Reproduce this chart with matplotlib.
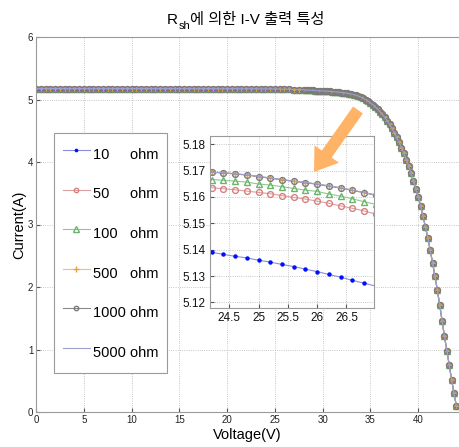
import matplotlib
matplotlib.use("Agg")
import matplotlib.pyplot as plt
from matplotlib.patches import FancyArrow
from matplotlib.transforms import IdentityTransform

plt.rcParams["font.family"] = ["Liberation Sans", "Noto Sans CJK KR", "DejaVu Sans"]

# legend labels (padded like the original)
labels = ["10     ohm", "50     ohm", "100   ohm", "500   ohm", "1000 ohm", "5000 ohm"]

# main I-V curve (all six series overlap at this scale)
v_main = [0, 0.5, 1, 1.5, 2, 2.5, 3, 3.5, 4, 4.5, 5, 5.5, 6, 6.5, 7, 7.5, 8, 8.5, 9, 9.5,
          10, 10.5, 11, 11.5, 12, 12.5, 13, 13.5, 14, 14.5, 15, 15.5, 16, 16.5, 17, 17.5,
          18, 18.5, 19, 19.5, 20, 20.5, 21, 21.5, 22, 22.5, 23, 23.5, 24, 24.5, 25, 25.5,
          26, 26.5, 27, 27.5,
          28, 28.25, 28.5, 28.75, 29, 29.25, 29.5, 29.75, 30, 30.25, 30.5, 30.75,
          31, 31.25, 31.5, 31.75, 32, 32.25, 32.5, 32.75, 33, 33.25, 33.5, 33.75,
          34, 34.25, 34.5, 34.75, 35, 35.25, 35.5, 35.75, 36, 36.25, 36.5, 36.75,
          37, 37.25, 37.5, 37.75, 38, 38.25, 38.5, 38.75, 39, 39.25, 39.5, 39.75,
          40, 40.25, 40.5, 40.75, 41, 41.25, 41.5, 41.75, 42, 42.25, 42.5, 42.75,
          43, 43.25, 43.5, 43.75, 44]
i_main = [5.175, 5.175, 5.175, 5.175, 5.175, 5.175, 5.175, 5.175, 5.175, 5.175,
          5.175, 5.175, 5.175, 5.175, 5.175, 5.175, 5.175, 5.175, 5.175, 5.175,
          5.175, 5.174, 5.174, 5.174, 5.174, 5.174, 5.174, 5.174, 5.174, 5.174,
          5.174, 5.174, 5.174, 5.174, 5.174, 5.174, 5.174, 5.173, 5.173, 5.173,
          5.173, 5.173, 5.173, 5.172, 5.172, 5.172, 5.172, 5.171, 5.170, 5.169,
          5.1675, 5.166, 5.1645, 5.1625, 5.160, 5.158,
          5.155, 5.1525, 5.150, 5.148, 5.146, 5.1435, 5.141, 5.139, 5.137, 5.1345, 5.132, 5.1295,
          5.127, 5.1235, 5.120, 5.116, 5.112, 5.107, 5.101, 5.094, 5.087, 5.078, 5.067, 5.054,
          5.038, 5.020, 4.999, 4.975, 4.948, 4.918, 4.885, 4.847, 4.806, 4.762, 4.714, 4.662,
          4.603, 4.540, 4.470, 4.395, 4.315, 4.230, 4.140, 4.040, 3.940, 3.820, 3.700, 3.575,
          3.445, 3.300, 3.140, 2.965, 2.790, 2.595, 2.390, 2.175, 1.955, 1.710, 1.460, 1.210,
          0.980, 0.750, 0.510, 0.300, 0.090]

# zoomed region (inset)
v_zoom = [24.2, 24.4, 24.6, 24.8, 25.0, 25.2, 25.4, 25.6, 25.8, 26.0, 26.2, 26.4, 26.6, 26.8, 27.0]
i_zoom_10 = [5.1390, 5.1382, 5.1375, 5.1369, 5.1360, 5.1353, 5.1344, 5.1336, 5.1326, 5.1317,
             5.1306, 5.1296, 5.1284, 5.1273, 5.1262]
i_zoom_50 = [5.1635, 5.1631, 5.1627, 5.1622, 5.1617, 5.1612, 5.1605, 5.1598, 5.1592, 5.1584,
             5.1576, 5.1566, 5.1557, 5.1547, 5.1535]
i_zoom_100 = [5.1666, 5.1663, 5.1660, 5.1656, 5.1649, 5.1645, 5.1639, 5.1632, 5.1626, 5.1621,
              5.1611, 5.1603, 5.1593, 5.1582, 5.1572]
i_zoom_500 = [5.1693, 5.1692, 5.1687, 5.1683, 5.1677, 5.1671, 5.1665, 5.1660, 5.1654, 5.1649,
              5.1641, 5.1634, 5.1625, 5.1617, 5.1606]
i_zoom_1000 = [5.1693, 5.1691, 5.1687, 5.1683, 5.1677, 5.1671, 5.1665, 5.1659, 5.1654, 5.1648,
               5.1641, 5.1634, 5.1625, 5.1616, 5.1606]
i_zoom_5000 = [5.1694, 5.1692, 5.1688, 5.1684, 5.1678, 5.1672, 5.1666, 5.1660, 5.1655, 5.1649,
               5.1642, 5.1635, 5.1626, 5.1617, 5.1607]
i_zoom = [i_zoom_10, i_zoom_50, i_zoom_100, i_zoom_500, i_zoom_1000, i_zoom_5000]

styles = [
    dict(color="#8c8cde", marker="o", ms=2.2, mfc="#0010ff", mec="#0010ff"),
    dict(color="#dca0a0", marker="o", ms=4.2, mfc="none", mec="#d88080"),
    dict(color="#90c890", marker="^", ms=5.0, mfc="none", mec="#6cb46c"),
    dict(color="#f2bf6e", marker="+", ms=5.0, mec="#e8a040"),
    dict(color="#8a8a8a", marker="o", ms=4.2, mfc="none", mec="#7a7a7a"),
    dict(color="#a0a0d0", marker=None),
]

fig = plt.figure(figsize=(4.59, 4.47), dpi=100)
ax = fig.add_axes([36 / 459, 35 / 447, 423 / 459, 375 / 447])

for lab, st in zip(labels, styles):
    ax.plot(v_main, i_main, lw=0.8, label=lab, **st)

ax.set_xlim(0, 44.27)
ax.set_ylim(0, 6)
ax.set_xticks(range(0, 45, 5))
ax.set_yticks(range(0, 7))
ax.grid(True, linestyle=":", color="#b4b4b4", lw=0.6)
ax.tick_params(direction="in", length=3, labelsize=7, colors="#555555", labelcolor="#222222", pad=2)
for s in ax.spines.values():
    s.set_color("#9a9a9a")
ax.spines["right"].set_visible(False)

ax.set_xlabel("Voltage(V)", fontsize=10.5, labelpad=2)
ax.set_ylabel("Current(A)", fontsize=10.5, labelpad=1)

# title: R with subscript sh, then the Korean text
t1 = fig.text(167 / 459, 1 - 24 / 447, "R", fontsize=11, ha="left", va="baseline")
t2 = ax.annotate("sh", xy=(1, 0), xycoords=t1, xytext=(0.2, -1.5), textcoords="offset points",
                 fontsize=8, ha="left", va="baseline", annotation_clip=False)
t3 = ax.annotate("에 의한 I-V 출력 특성", xy=(1, 0), xycoords=(t2, t1), xytext=(0.3, 0),
                 textcoords="offset points", fontsize=11, ha="left", va="bottom",
                 annotation_clip=False)

leg = ax.legend(loc="upper left", bbox_to_anchor=(54 / 459, 314 / 447),
                bbox_transform=fig.transFigure, borderaxespad=0, fontsize=10.5,
                handlelength=1.85, handletextpad=0.2, handleheight=2.3, labelspacing=0.97,
                borderpad=0.6, markerscale=0.75, fancybox=False, framealpha=1,
                edgecolor="#9a9a9a")
leg.get_frame().set_linewidth(0.8)

# inset
axin = fig.add_axes([210 / 459, 139 / 447, 164 / 459, 172 / 447])
for vals, st in zip(i_zoom, styles):
    axin.plot(v_zoom, vals, lw=0.8, **st)
axin.set_xlim(24.17, 26.97)
axin.set_ylim(5.1179, 5.1831)
axin.set_xticks([24.5, 25, 25.5, 26, 26.5])
axin.set_xticklabels(["24.5", "25", "25.5", "26", "26.5"])
axin.set_yticks([5.12, 5.13, 5.14, 5.15, 5.16, 5.17, 5.18])
axin.grid(True, linestyle=":", color="#b4b4b4", lw=0.6)
axin.tick_params(direction="in", length=3, labelsize=8.5, colors="#555555", labelcolor="#111111", pad=3)
for s in axin.spines.values():
    s.set_color("#9a9a9a")

arrow = FancyArrow(358, 337, -44, -62, width=12, head_width=30, head_length=22,
                   length_includes_head=True, color="#ffb366", lw=0,
                   transform=IdentityTransform())
fig.add_artist(arrow)

fig.savefig("out.png", dpi=100)
